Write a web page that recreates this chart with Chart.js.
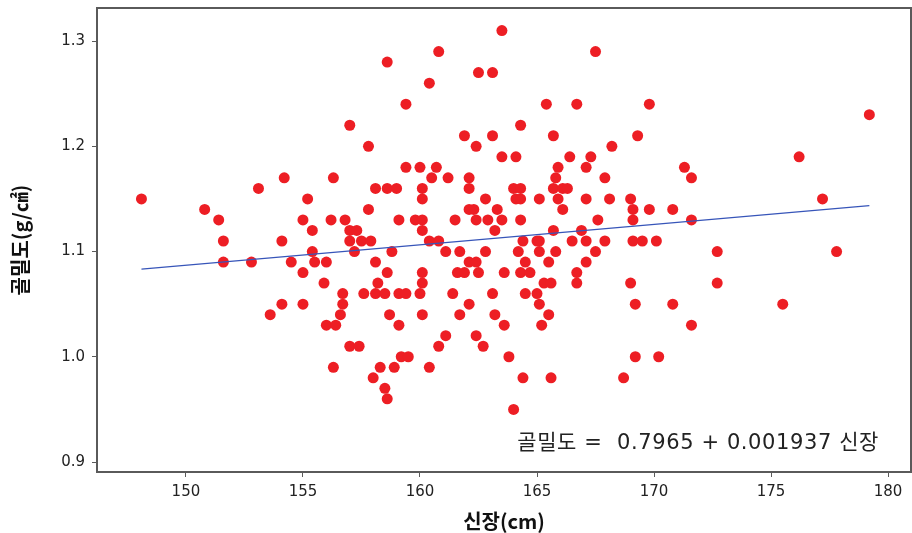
<!DOCTYPE html>
<html><head><meta charset="utf-8">
<script src="https://cdn.jsdelivr.net/npm/chart.js@4/dist/chart.umd.min.js"></script>
<style>html,body{margin:0;padding:0;background:#fff;}canvas{display:block;}</style>
</head><body>
<canvas id="c" width="912" height="533"></canvas>
<script>
const xTitle = '신장(cm)';
const yTitle = '골밀도(g/㎠)';
const eqText = '골밀도 =  0.7965 + 0.001937 신장';
const intercept = 0.7965;
const slope = 0.001937;
const xTicks = [150, 155, 160, 165, 170, 175, 180];
const yTicks = [0.9, 1.0, 1.1, 1.2, 1.3];

// bone density levels and the heights observed at each level
const bmdLevels = [1.31, 1.29, 1.28, 1.27, 1.26, 1.24, 1.23, 1.22, 1.21, 1.20, 1.19, 1.18, 1.17, 1.16, 1.15, 1.14, 1.13, 1.12, 1.11, 1.10, 1.09, 1.08, 1.07, 1.06, 1.05, 1.04, 1.03, 1.02, 1.01, 1.00, 0.99, 0.98, 0.97, 0.96, 0.95];
const heightsAtLevel = [
  [163.5],
  [160.8, 167.5],
  [158.6],
  [162.5, 163.1],
  [160.4],
  [159.4, 165.4, 166.7, 169.8],
  [179.2],
  [157.0, 164.3],
  [161.9, 163.1, 165.7, 169.3],
  [157.8, 162.4, 168.2],
  [163.5, 164.1, 166.4, 167.3, 176.2],
  [159.4, 160.0, 160.7, 165.9, 167.1, 171.3],
  [154.2, 156.3, 160.5, 161.2, 162.1, 165.8, 167.9, 171.6],
  [153.1, 158.1, 158.6, 159.0, 160.1, 162.1, 164.0, 164.3, 165.7, 166.1, 166.3],
  [148.1, 155.2, 160.1, 162.8, 164.1, 164.3, 165.1, 165.9, 167.1, 168.1, 169.0, 177.2],
  [150.8, 157.8, 162.1, 162.3, 163.3, 166.1, 169.1, 169.8, 170.8],
  [151.4, 155.0, 156.2, 156.8, 159.1, 159.8, 160.1, 161.5, 162.4, 162.9, 163.5, 164.3, 167.6, 169.1, 171.6],
  [155.4, 157.0, 157.3, 160.1, 163.2, 165.7, 166.9],
  [151.6, 154.1, 157.0, 157.5, 157.9, 160.4, 160.8, 164.4, 165.0, 165.1, 166.5, 167.1, 167.9, 169.1, 169.5, 170.1],
  [155.4, 157.2, 158.8, 161.1, 161.7, 162.8, 164.2, 165.1, 165.8, 167.5, 172.7, 177.8],
  [151.6, 152.8, 154.5, 155.5, 156.0, 158.1, 162.1, 162.4, 164.5, 165.5, 167.1],
  [155.0, 158.6, 160.1, 161.6, 161.9, 162.5, 163.6, 164.3, 164.7, 166.7],
  [155.9, 158.2, 160.1, 165.3, 165.6, 166.7, 169.0, 172.7],
  [156.7, 157.6, 158.1, 158.5, 159.1, 159.4, 160.0, 161.4, 163.1, 164.5, 165.0],
  [154.1, 155.0, 156.7, 162.1, 165.1, 169.2, 170.8, 175.5],
  [153.6, 156.6, 158.7, 160.1, 161.7, 163.2, 165.5],
  [156.0, 156.4, 159.1, 163.6, 165.2, 171.6],
  [161.1, 162.4],
  [157.0, 157.4, 160.8, 162.7],
  [159.2, 159.5, 163.8, 169.2, 170.2],
  [156.3, 158.3, 158.9, 160.4],
  [158.0, 164.4, 165.6, 168.7],
  [158.5],
  [158.6],
  [164.0]
];

const points = [];
bmdLevels.forEach((b, i) => heightsAtLevel[i].forEach(h => points.push({x: h, y: b})));
const allH = points.map(p => p.x);
const hMin = Math.min(...allH), hMax = Math.max(...allH);
const fitLine = [hMin, hMax].map(h => ({x: h, y: intercept + slope * h}));

const frame = {
  id: 'frame',
  afterDraw(chart) {
    const {ctx, chartArea: a} = chart;
    ctx.save();
    ctx.strokeStyle = '#5a5a5a';
    ctx.lineWidth = 2;
    ctx.strokeRect(a.left, a.top, a.right - a.left, a.bottom - a.top);
    ctx.font = '21px "DejaVu Sans", "Noto Sans CJK KR", sans-serif';
    ctx.letterSpacing = '0.6px';
    ctx.fillStyle = '#222';
    ctx.textAlign = 'right';
    ctx.textBaseline = 'middle';
    ctx.fillText(eqText, a.right - 32, a.bottom - 28);
    ctx.restore();
  }
};

const tickFont = {family: '"DejaVu Sans", sans-serif', size: 15};
const titleFont = {family: '"Noto Sans CJK KR", sans-serif', size: 20, weight: 'bold'};

new Chart(document.getElementById('c'), {
  type: 'scatter',
  data: {
    datasets: [
      {data: points, pointRadius: 5.5, pointHoverRadius: 5.5, backgroundColor: 'rgb(237,30,36)', borderWidth: 0, order: 2},
      {type: 'line', data: fitLine, borderColor: 'rgb(55,85,185)', borderWidth: 1.3, pointRadius: 0, fill: false, order: 1}
    ]
  },
  options: {
    responsive: false,
    animation: false,
    layout: {autoPadding: false, padding: {top: 8, right: 1, left: 0, bottom: 0}},
    plugins: {legend: {display: false}, tooltip: {enabled: false}},
    scales: {
      x: {
        type: 'linear', min: 146.2, max: 180.98,
        afterBuildTicks: s => { s.ticks = xTicks.map(v => ({value: v})); },
        afterFit: s => { s.height = 61; s.paddingLeft = 0; s.paddingRight = 0; },
        ticks: {font: tickFont, color: '#222', padding: 6, callback: v => String(v), maxRotation: 0},
        grid: {display: true, drawOnChartArea: false, drawTicks: true, tickLength: 5, color: '#5a5a5a'},
        border: {display: true, color: '#5a5a5a', width: 2},
        title: {display: true, text: xTitle, font: titleFont, color: '#111', padding: {top: 3, bottom: 0}}
      },
      y: {
        type: 'linear', min: 0.8905, max: 1.3314,
        afterBuildTicks: s => { s.ticks = yTicks.map(v => ({value: v})); },
        afterFit: s => { s.width = 97; s.paddingTop = 0; s.paddingBottom = 0; },
        ticks: {font: tickFont, color: '#222', padding: 7, callback: v => Number(v).toFixed(1)},
        grid: {display: true, drawOnChartArea: false, drawTicks: true, tickLength: 5, color: '#5a5a5a'},
        border: {display: true, color: '#5a5a5a', width: 2},
        title: {display: true, text: yTitle, font: titleFont, color: '#111', padding: {top: 8, bottom: 0}}
      }
    }
  },
  plugins: [frame]
});
</script>
</body></html>
